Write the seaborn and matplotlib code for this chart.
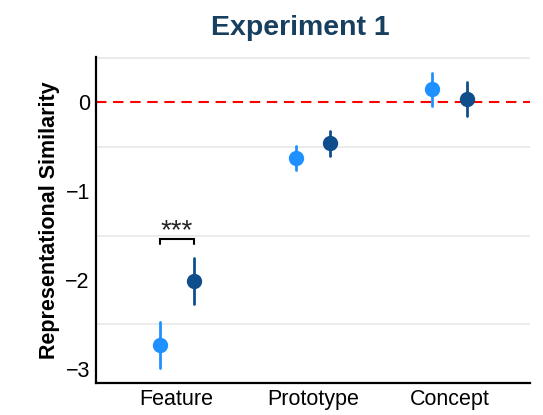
import matplotlib
matplotlib.use("Agg")
import numpy as np
import pandas as pd
import matplotlib.pyplot as plt
import seaborn as sns

# values
categories = ["Feature", "Prototype", "Concept"]
groups = ["Group 1", "Group 2"]
means = {"Group 1": [-2.73, -0.63, 0.15], "Group 2": [-2.01, -0.46, 0.04]}
lower = {"Group 1": [-2.99, -0.76, -0.04], "Group 2": [-2.27, -0.60, -0.15]}
upper = {"Group 1": [-2.47, -0.49, 0.33], "Group 2": [-1.75, -0.32, 0.23]}
palette = {"Group 1": "#1E90FF", "Group 2": "#104E8B"}
sig_y = -1.54
sig_text = "***"

# long-form table: the median of (low, mean, high) is the mean,
# and the full percentile interval spans low..high
rows = []
for g in groups:
    for i, c in enumerate(categories):
        for v in (lower[g][i], means[g][i], upper[g][i]):
            rows.append({"Category": c, "Group": g, "Value": v})
df = pd.DataFrame(rows)

sns.set_theme(style="white")
plt.rcParams["font.family"] = ["Liberation Sans", "DejaVu Sans"]

fig = plt.figure(figsize=(5.43, 4.15), dpi=100)
ax = fig.add_axes([0.177, 0.077, 0.799, 0.786])

dodge = 0.25
sns.pointplot(
    data=df, x="Category", y="Value", hue="Group", order=categories,
    hue_order=groups, palette=palette, estimator="median",
    errorbar=("pi", 100), dodge=dodge, linestyle="none",
    markersize=9, err_kws={"linewidth": 2.0}, legend=False, ax=ax,
)

ax.axhline(0, color="#FF0000", linestyle=(0, (5, 3.2)), linewidth=1.5, zorder=1)

# significance bracket between the two Feature points
x0, x1 = -dodge / 2, dodge / 2
ax.plot([x0, x0, x1, x1], [sig_y - 0.06, sig_y, sig_y, sig_y - 0.06],
        color="black", linewidth=1.5, solid_joinstyle="miter")
ax.text(0, sig_y - 0.06, sig_text, ha="center", va="bottom", fontsize=20)

ax.set_xlim(-0.59, 2.59)
ax.set_ylim(-3.16, 0.51)
ax.set_yticks([0, -1, -2, -3])
ax.set_yticks([0.5, -0.5, -1.5, -2.5], minor=True)
ax.grid(False)
ax.grid(which="minor", axis="y", color="#EBEBEB", linewidth=1.4)
ax.set_axisbelow(True)
ax.tick_params(axis="both", which="major", length=2.5, width=1, color="#333333",
               labelsize=15.5, labelcolor="black", pad=2)
ax.tick_params(which="minor", length=0)

for side in ("top", "right"):
    ax.spines[side].set_visible(False)
for side in ("left", "bottom"):
    ax.spines[side].set_color("black")
    ax.spines[side].set_linewidth(1.6)

ax.set_xlabel("")
ax.set_ylabel("Representational Similarity", fontsize=15.5, fontweight="bold",
              color="black", labelpad=4)
ax.set_title("Experiment 1", fontsize=20.5, fontweight="bold", color="#173F5F",
             pad=16, x=0.47)

fig.savefig("out.png", dpi=100)
